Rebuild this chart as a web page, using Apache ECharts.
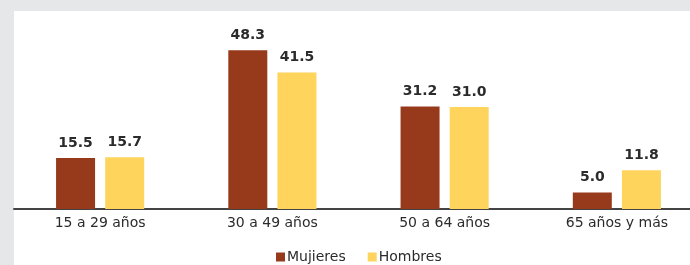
<!DOCTYPE html>
<html>
<head>
<meta charset="utf-8">
<script src="https://cdn.jsdelivr.net/npm/echarts@6/dist/echarts.min.js"></script>
<style>
  html, body { margin: 0; padding: 0; background: #e6e7e9; overflow: hidden; }
  #chart { width: 710px; height: 265px; }
</style>
</head>
<body>
<div id="chart"></div>
<script>
const categories = ["15 a 29 años", "30 a 49 años", "50 a 64 años", "65 años y más"];
const mujeres = [15.5, 48.3, 31.2, 5.0];
const hombres = [15.7, 41.5, 31.0, 11.8];

const chart = echarts.init(document.getElementById("chart"));

const labelStyle = {
  show: true,
  position: "top",
  distance: 8,
  color: "#2b2b2b",
  fontFamily: "DejaVu Sans",
  fontSize: 14,
  fontWeight: "bold",
  formatter: (p) => p.value.toFixed(1)
};

const option = {
  backgroundColor: "#e6e7e9",
  animation: false,
  graphic: [
    {
      type: "rect",
      left: 14,
      top: 11,
      z: -10,
      shape: { width: 720, height: 270 },
      style: { fill: "#ffffff" }
    }
  ],
  legend: {
    data: ["Mujieres", "Hombres"],
    left: 271,
    top: 245,
    itemWidth: 9,
    itemHeight: 9,
    itemGap: 22,
    icon: "rect",
    textStyle: {
      color: "#2b2b2b",
      fontFamily: "DejaVu Sans",
      fontSize: 14,
      padding: [0, 0, 0, -3]
    }
  },
  grid: {
    left: 14,
    top: 11,
    width: 689,
    height: 198
  },
  xAxis: {
    type: "category",
    data: categories,
    axisLine: { lineStyle: { color: "#444", width: 2 } },
    axisTick: { show: false },
    axisLabel: {
      color: "#2b2b2b",
      fontFamily: "DejaVu Sans",
      fontSize: 14,
      margin: 7
    }
  },
  yAxis: {
    type: "value",
    min: 0,
    max: 60.2,
    show: false,
    splitLine: { show: false }
  },
  series: [
    {
      name: "Mujieres",
      type: "bar",
      data: mujeres,
      barWidth: 39,
      barGap: "26%",
      itemStyle: { color: "#973a1c" },
      label: labelStyle
    },
    {
      name: "Hombres",
      type: "bar",
      data: hombres,
      barWidth: 39,
      itemStyle: { color: "#fed45d" },
      label: labelStyle
    }
  ]
};

chart.setOption(option);
</script>
</body>
</html>
